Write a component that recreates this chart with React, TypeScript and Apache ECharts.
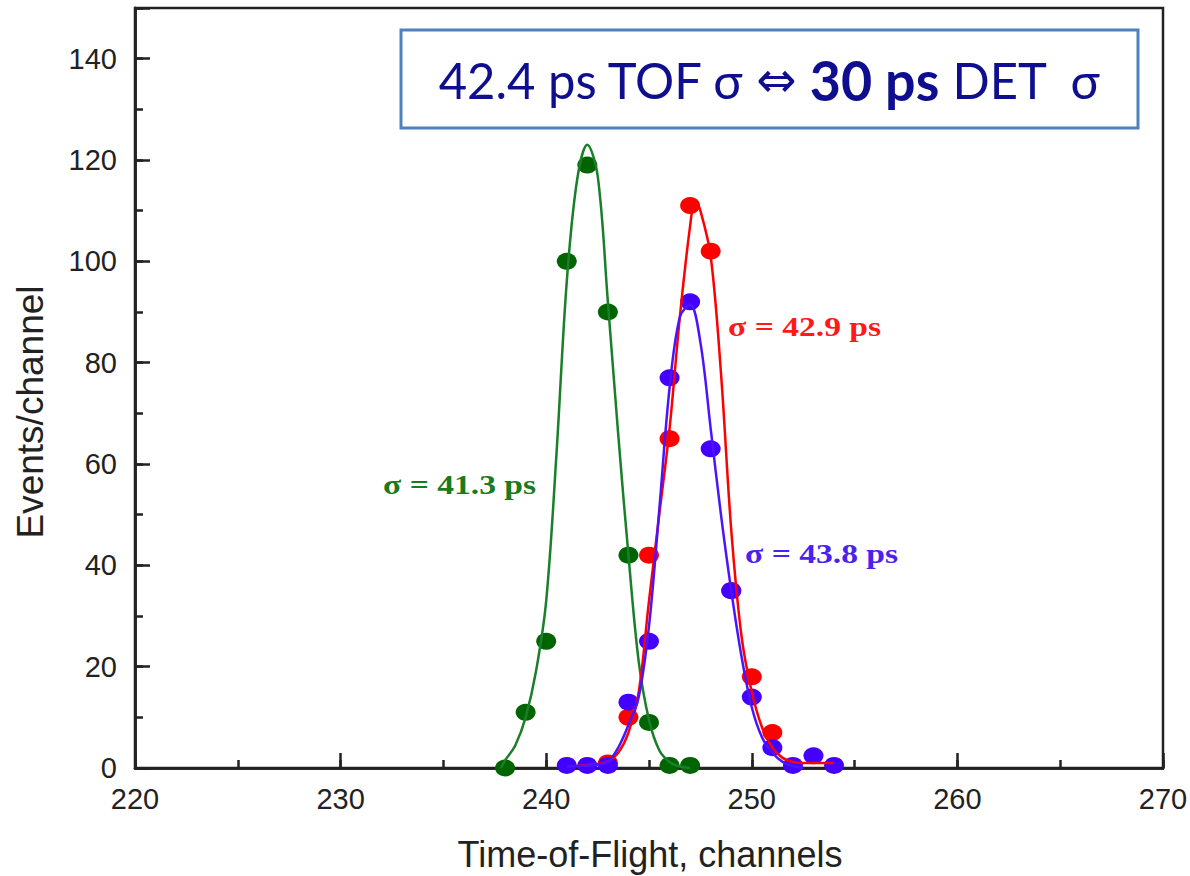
import React, { useEffect, useRef } from "react";
import * as echarts from "echarts";

// ---- data ----
const greenChannels = [238, 239, 240, 241, 242, 243, 244, 245, 246, 247];
const greenCounts = [0, 11, 25, 100, 119, 90, 42, 9, 0.5, 0.5];

const redChannels = [243, 244, 245, 246, 247, 248, 249, 250, 251];
const redCounts = [1, 10, 42, 65, 111, 102, 35, 18, 7];

const blueChannels = [241, 242, 243, 244, 245, 246, 247, 248, 249, 250, 251, 252, 253, 254];
const blueCounts = [0.5, 0.5, 0.5, 13, 25, 77, 92, 63, 35, 14, 4, 0.5, 2.4, 0.5];

// fitted curves
const greenFitX = [237.8, 238, 238.5, 239, 239.5, 240, 240.5, 241, 241.5, 242, 242.5, 243, 243.5, 244, 244.5, 245, 245.5, 246, 246.5, 247];
const greenFitY = [0, 1.5, 4.5, 10, 19, 33, 62, 96, 116, 123, 117, 92, 66, 42, 21, 9.5, 3.5, 1.2, 0.3, 0];

const redFitX = [241.5, 242, 242.5, 243, 243.5, 244, 244.5, 245, 245.5, 246, 246.5, 247, 247.25, 247.5, 248, 248.5, 249, 249.5, 250, 250.5, 251, 251.5, 252, 252.5, 253, 253.5, 254];
const redFitY = [0.4, 0.6, 0.8, 1.3, 3, 7, 15, 33, 50, 67, 89, 107, 112, 110, 101, 78, 47, 26, 15, 8, 4, 2, 1.2, 1, 1, 1, 1];

const blueFitX = [241, 242, 242.5, 243, 243.5, 244, 244.5, 245, 245.5, 246, 246.5, 247, 247.5, 248, 248.5, 249, 249.5, 250, 250.5, 251, 251.5, 252, 252.5];
const blueFitY = [0.3, 0.5, 0.7, 1.2, 4, 8.5, 14, 28, 51, 75, 89, 91.5, 84, 67, 50, 35, 22, 12, 6, 3, 1.2, 0.4, 0];

const xMin = 220;
const xMax = 270;
const yMin = 0;
const yMax = 150;

const zip = (xs: number[], ys: number[]) => xs.map((x, i) => [x, ys[i]]);

const GREEN_LINE = "#1a7f2a";
const GREEN_PT = "#006400";
const RED = "#ff0000";
const BLUE_LINE = "#4a14ff";
const BLUE_PT = "#4400ff";
const AXIS = "#222222";
const NAVY = "#0e0e8e";

export default function App() {
  const ref = useRef<HTMLDivElement>(null);

  useEffect(() => {
    if (!ref.current) return;
    const chart = echarts.init(ref.current, undefined, { renderer: "svg" });

    const fitSeries = (name: string, data: number[][], color: string) => ({
      name,
      type: "line",
      data,
      smooth: 0.35,
      showSymbol: false,
      symbol: "none",
      lineStyle: { color, width: 2.5 },
      silent: true,
    });
    const ptSeries = (name: string, data: number[][], color: string) => ({
      name,
      type: "scatter",
      data,
      symbol: "circle",
      symbolSize: [20, 17],
      itemStyle: { color, opacity: 1 },
      silent: true,
    });

    const axisCommon = {
      axisLine: { show: true, onZero: false, lineStyle: { color: AXIS, width: 2.5 } },
      splitLine: { show: false },
    };

    const sigmaLabel = (text: string, x: number, y: number, fill: string) => ({
      type: "text",
      z: 50,
      x,
      y,
      scaleX: 1.2,
      style: {
        text,
        fontFamily: "Liberation Serif",
        fontWeight: "bold",
        fontSize: 28,
        fill,
        verticalAlign: "middle",
      },
    });

    chart.setOption({
      animation: false,
      backgroundColor: "#ffffff",
      grid: {
        left: 135,
        right: 27,
        top: 8,
        bottom: 108,
        containLabel: false,
        outerBoundsMode: "none",
        show: true,
        borderColor: AXIS,
        borderWidth: 2.5,
        backgroundColor: "transparent",
      },
      xAxis: [
        {
          type: "value",
          min: xMin,
          max: xMax,
          interval: 10,
          ...axisCommon,
          axisTick: { show: true, inside: true, length: 15, lineStyle: { color: AXIS, width: 2.5 } },
          axisLabel: {
            show: true,
            margin: 16,
            color: AXIS,
            fontFamily: "Liberation Sans, Arial",
            fontSize: 29,
          },
        },
        {
          type: "value",
          min: xMin,
          max: xMax,
          interval: 5,
          position: "bottom",
          ...axisCommon,
          axisTick: { show: true, inside: true, length: 8, lineStyle: { color: AXIS, width: 2.5 } },
          axisLabel: { show: false },
        },
      ],
      yAxis: [
        {
          type: "value",
          min: yMin,
          max: yMax,
          interval: 20,
          ...axisCommon,
          axisTick: { show: true, inside: true, length: 15, lineStyle: { color: AXIS, width: 2.5 } },
          axisLabel: {
            show: true,
            margin: 18,
            color: AXIS,
            fontFamily: "Liberation Sans, Arial",
            fontSize: 29,
            formatter: (v: number) => (v > 140 ? "" : String(v)),
          },
        },
        {
          type: "value",
          min: yMin,
          max: yMax,
          interval: 10,
          position: "left",
          ...axisCommon,
          axisTick: { show: true, inside: true, length: 8, lineStyle: { color: AXIS, width: 2.5 } },
          axisLabel: { show: false },
        },
      ],
      series: [
        fitSeries("green fit", zip(greenFitX, greenFitY), GREEN_LINE),
        ptSeries("green", zip(greenChannels, greenCounts), GREEN_PT),
        fitSeries("red fit", zip(redFitX, redFitY), RED),
        ptSeries("red", zip(redChannels, redCounts), RED),
        fitSeries("blue fit", zip(blueFitX, blueFitY), BLUE_LINE),
        ptSeries("blue", zip(blueChannels, blueCounts), BLUE_PT),
      ],
      graphic: [
        {
          type: "text",
          x: 30,
          y: 412,
          rotation: Math.PI / 2,
          style: {
            text: "Events/channel",
            fontFamily: "Liberation Sans, Arial",
            fontSize: 37,
            fill: AXIS,
            align: "center",
            verticalAlign: "middle",
          },
        },
        {
          type: "text",
          x: 650,
          y: 854,
          style: {
            text: "Time-of-Flight, channels",
            fontFamily: "Liberation Sans, Arial",
            fontSize: 36,
            fill: AXIS,
            align: "center",
            verticalAlign: "middle",
          },
        },
        {
          type: "rect",
          z: 100,
          shape: { x: 401, y: 30, width: 737, height: 98 },
          style: { fill: "#ffffff", stroke: "#4f81bd", lineWidth: 3 },
        },
        {
          type: "text",
          z: 101,
          x: 769,
          y: 80,
          scaleX: 0.96,
          style: {
            text: "{n|42.4 ps TOF σ }{a|⇔}{b| 30 ps}{n| DET  σ}",
            align: "center",
            verticalAlign: "middle",
            fill: NAVY,
            rich: {
              n: { fontFamily: "Lato", fontSize: 51, fill: NAVY },
              a: { fontFamily: "DejaVu Sans", fontSize: 50, fill: NAVY },
              b: { fontFamily: "Lato", fontSize: 56, fontWeight: "bold", fill: NAVY },
            },
          },
        },
        sigmaLabel("σ = 41.3 ps", 383, 484, "#1a7a20"),
        sigmaLabel("σ = 42.9 ps", 728, 326, "#ff1a1a"),
        sigmaLabel("σ = 43.8 ps", 745, 553, "#4a22ee"),
      ],
    });

    return () => chart.dispose();
  }, []);

  return (
    <div
      ref={ref}
      style={{ position: "fixed", left: 0, top: 0, width: 1190, height: 876, background: "#fff" }}
    />
  );
}
